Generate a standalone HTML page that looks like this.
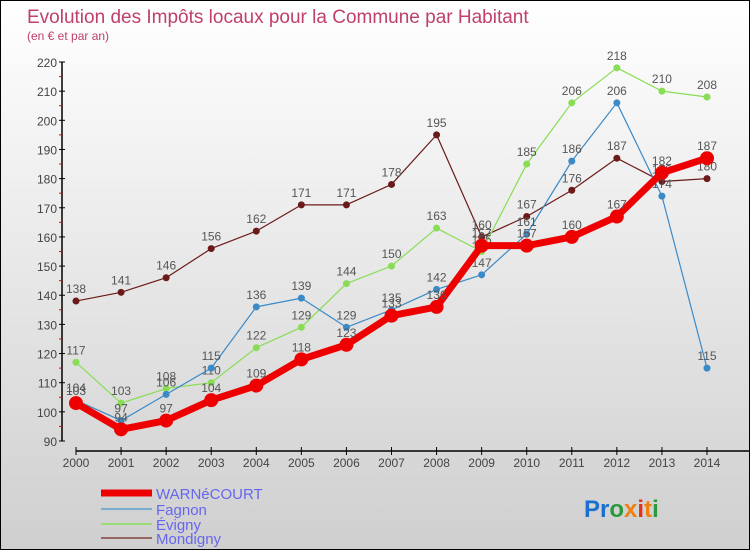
<!DOCTYPE html>
<html><head><meta charset="utf-8"><style>
body{margin:0}
#c{width:748px;height:548px;border:1px solid #000;background:linear-gradient(#ffffff,#cfcfcf);position:relative;font-family:"Liberation Sans",sans-serif;overflow:hidden}
</style></head><body>
<div id="c">
<svg id="s" width="748" height="548" xmlns="http://www.w3.org/2000/svg">
<text x="26" y="22" font-size="19" fill="#c0406a">Evolution des Impôts locaux pour la Commune par Habitant</text>
<text x="26" y="39" font-size="12" fill="#c0406a">(en € et par an)</text>
<g id="axes"></g><g id="series"></g>
<g>
<line x1="100" y1="492" x2="151" y2="492" stroke="#e00" stroke-width="7"/>
<text x="155" y="498" font-size="15" fill="#6666ee">WARNéCOURT</text>
<line x1="100" y1="508" x2="151" y2="508" stroke="#7aaed0" stroke-width="2"/>
<text x="155" y="514" font-size="15" fill="#6666ee">Fagnon</text>
<line x1="100" y1="523" x2="151" y2="523" stroke="#99dd77" stroke-width="2"/>
<text x="155" y="529" font-size="15" fill="#6666ee">Évigny</text>
<line x1="100" y1="537" x2="151" y2="537" stroke="#996666" stroke-width="2"/>
<text x="155" y="543" font-size="15" fill="#6666ee">Mondigny</text>
</g>
<text x="583" y="516" font-size="24" font-weight="bold"><tspan fill="#1a6fd0">Pr</tspan><tspan fill="#2a9a3a">o</tspan><tspan fill="#f08010">x</tspan><tspan fill="#e03020">i</tspan><tspan fill="#f08010">t</tspan><tspan fill="#2a9a3a">i</tspan></text>
</svg></div>
<script>
const years=[2000,2001,2002,2003,2004,2005,2006,2007,2008,2009,2010,2011,2012,2013,2014];
const yTicks=[90,100,110,120,130,140,150,160,170,180,190,200,210,220];
const warnecourt=[103,94,97,104,109,118,123,133,136,157,157,160,167,182,187];
const fagnon=[104,97,106,115,136,139,129,135,142,147,161,186,206,174,115];
const evigny=[117,103,108,110,122,129,144,150,163,155,185,206,218,210,208];
const mondigny=[138,141,146,156,162,171,171,178,195,160,167,176,187,179,180];
const NS="http://www.w3.org/2000/svg";
function X(i){return 75+i*(706-75)/14;}
function Y(v){return 440-(v-90)*(440-61)/130;}
function mk(t,a,p){const e=document.createElementNS(NS,t);for(const k in a)e.setAttribute(k,a[k]);p.appendChild(e);return e;}
const ax=document.getElementById('axes');
const ya=mk('line',{x1:61,y1:61,x2:61,y2:440,stroke:'#000','stroke-width':1.5},ax);


yTicks.forEach(v=>{
 mk('line',{x1:58,y1:Y(v),x2:64,y2:Y(v),stroke:'#000'},ax);
 if(v<220)mk('line',{x1:58,y1:Y(v+5),x2:61,y2:Y(v+5),stroke:'#e00'},ax);
 const t=mk('text',{x:56,y:Y(v)+5,'text-anchor':'end','font-size':12,fill:'#444'},ax);t.textContent=v;
 
 
});
const xa=mk('line',{x1:75,y1:450,x2:750,y2:450,stroke:'#000','stroke-width':1.5},ax);


years.forEach((y,i)=>{
 mk('line',{x1:X(i),y1:446,x2:X(i),y2:454,stroke:'#000'},ax);
 const t=mk('text',{x:X(i),y:466,'text-anchor':'middle','font-size':12,fill:'#444'},ax);t.textContent=y;
 
 
});
const sg=document.getElementById('series');
function draw(name,data,color,w,r){
 const g=mk('g',{},sg);
 
 
 const pl=mk('polyline',{points:data.map((v,i)=>X(i)+','+Y(v)).join(' '),fill:'none',stroke:color,'stroke-width':w,'stroke-linejoin':'round'},g);
 
 
 data.forEach((v,i)=>{
  const c=mk('circle',{cx:X(i),cy:Y(v),r:r,fill:color},g);
  
  
  const t=mk('text',{x:X(i),y:Y(v)-8,'text-anchor':'middle','font-size':12,fill:'#555'},g);t.textContent=v;
  
  
 });
}
draw('mondigny',mondigny,'#6b1a1a',1.2,3.5);
draw('evigny',evigny,'#88dd55',1.2,3.5);
draw('fagnon',fagnon,'#3a8ac8',1.2,3.5);
draw('warnecourt',warnecourt,'#ee0000',7,7);
</script>
</body></html>
